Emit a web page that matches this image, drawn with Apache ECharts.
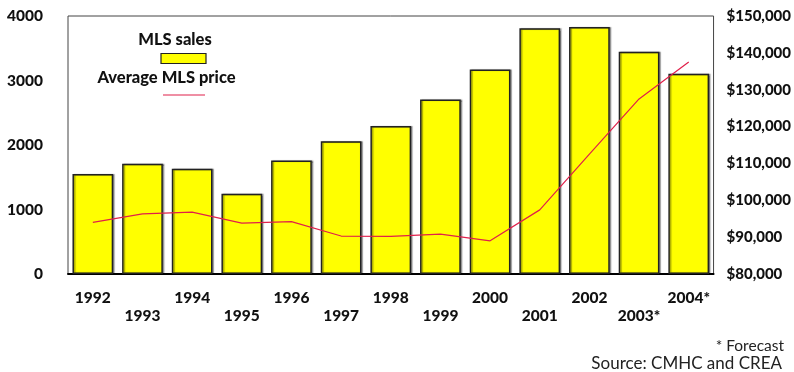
<!DOCTYPE html>
<html>
<head>
<meta charset="utf-8">
<script src="https://cdn.jsdelivr.net/npm/echarts@6/dist/echarts.min.js"></script>
<style>
html,body{margin:0;padding:0;background:#fff;}
#chart{width:794px;height:372px;}
</style>
</head>
<body>
<div id="chart"></div>
<script>
const years = ['1992','1993','1994','1995','1996','1997','1998','1999','2000','2001','2002','2003*','2004*'];
const mlsSales = [1550, 1710, 1630, 1245, 1760, 2060, 2295, 2705, 3170, 3810, 3830, 3445, 3105];
const avgPrice = [94000, 96300, 96800, 93800, 94200, 90300, 90200, 90800, 89000, 97400, 112500, 127500, 137500];
const leftTicks = [0, 4000, 1000];
const rightTicks = [80000, 150000, 10000];

const FONT = 'Lato';
const chart = echarts.init(document.getElementById('chart'), null, {renderer: 'canvas'});
chart.setOption({
  animation: false,
  backgroundColor: '#fff',
  grid: {left: 68, right: 80, top: 16, bottom: 98, show: true, borderColor: '#444', borderWidth: 1, backgroundColor: 'transparent'},
  xAxis: {
    type: 'category',
    data: years,
    axisLine: {show: true, lineStyle: {color: '#000', width: 2}},
    axisTick: {show: false},
    axisLabel: {
      interval: 0,
      margin: 15,
      fontFamily: FONT, fontWeight: 900, fontSize: 15.5, color: '#111',
      lineHeight: 18,
      verticalAlign: 'top',
      formatter: function (v, i) { return i % 2 === 0 ? v : '\n' + v; }
    }
  },
  yAxis: [
    {
      type: 'value', min: leftTicks[0], max: leftTicks[1], interval: leftTicks[2],
      position: 'left',
      axisLine: {show: false}, axisTick: {show: false}, splitLine: {show: false},
      axisLabel: {margin: 25, fontFamily: FONT, fontWeight: 900, fontSize: 15.5, color: '#111',
        formatter: function (v) { return String(v); }}
    },
    {
      type: 'value', min: rightTicks[0], max: rightTicks[1], interval: rightTicks[2],
      position: 'right',
      axisLine: {show: false}, axisTick: {show: false}, splitLine: {show: false},
      axisLabel: {
        margin: 13, fontFamily: FONT, fontWeight: 900, fontSize: 15, color: '#111',
        formatter: function (v) { return '$' + v.toLocaleString('en-US'); }
      }
    }
  ],
  series: [
    {
      name: 'MLS sales', type: 'bar', data: mlsSales, yAxisIndex: 0,
      barCategoryGap: '18%',
      itemStyle: {color: '#ffff00', borderColor: '#222', borderWidth: 1.5,
        shadowColor: 'rgba(0,0,0,0.35)', shadowOffsetX: 1.5, shadowOffsetY: 0, shadowBlur: 1}
    },
    {
      name: 'Average MLS price', type: 'line', data: avgPrice, yAxisIndex: 1,
      symbol: 'none', lineStyle: {color: '#e0204a', width: 1.2}, z: 5
    }
  ],
  graphic: [
    {type: 'text', x: 175, y: 40, style: {text: 'MLS sales', font: '900 16.5px Lato', fill: '#111', align: 'center', verticalAlign: 'middle'}},
    {type: 'rect', shape: {x: 161, y: 53.5, width: 45, height: 10}, style: {fill: '#ffff00', stroke: '#222', lineWidth: 1.2}},
    {type: 'text', x: 166.5, y: 78, style: {text: 'Average MLS price', font: '900 16.5px Lato', fill: '#111', align: 'center', verticalAlign: 'middle'}},
    {type: 'line', shape: {x1: 163, y1: 95, x2: 205, y2: 95}, style: {stroke: '#e0204a', lineWidth: 1.2}},
    {type: 'text', x: 784, y: 346, style: {text: '* Forecast', font: '15.5px Lato', fill: '#222', align: 'right', verticalAlign: 'middle'}},
    {type: 'text', x: 782, y: 364, style: {text: 'Source: CMHC and CREA', font: '17px Lato', fill: '#222', align: 'right', verticalAlign: 'middle'}}
  ]
});
</script>
</body>
</html>
